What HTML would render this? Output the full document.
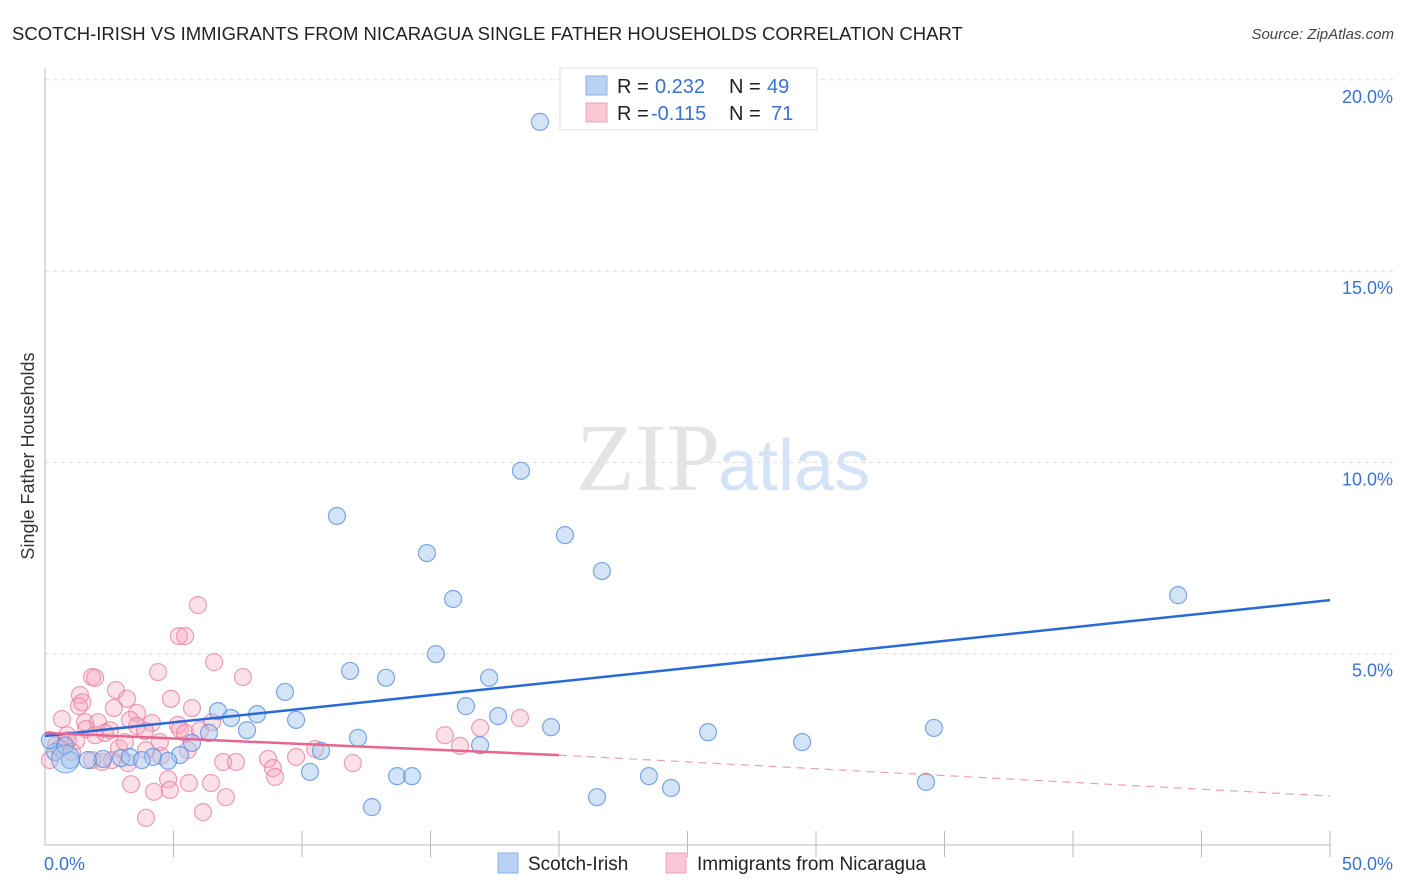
<!DOCTYPE html>
<html><head><meta charset="utf-8">
<style>
body{margin:0;background:#fff;font-family:"Liberation Sans",sans-serif;}
#wrap{position:relative;width:1406px;height:892px;overflow:hidden;}
svg{position:absolute;left:0;top:0;}
</style></head>
<body>
<div id="wrap">
<svg id="chart" width="1406" height="892">
  <text x="12" y="40" font-size="18.5" fill="#222">SCOTCH-IRISH VS IMMIGRANTS FROM NICARAGUA SINGLE FATHER HOUSEHOLDS CORRELATION CHART</text>
  <text x="1394" y="39" font-size="15" fill="#444" font-style="italic" text-anchor="end">Source: ZipAtlas.com</text>
  <text x="720" y="490" font-size="96" fill="#e4e4e4" text-anchor="end" font-family="Liberation Serif,serif">ZIP</text>
  <text x="718" y="490" font-size="72" fill="#d4e3f5">atlas</text>
  <g id="grid"></g>
  <g id="axes"></g>
  <g id="pinkPts"></g>
  <g id="bluePts"></g>
  <g id="trends"></g>
  <text transform="translate(34,456) rotate(-90)" font-size="18" fill="#333" text-anchor="middle">Single Father Households</text>
  <g>
    <rect x="560" y="68" width="257" height="62" fill="#fff" stroke="#ddd"/>
    <rect x="586" y="76" width="21" height="19" fill="#b8d2f4" stroke="#8ab3ea"/>
    <rect x="586" y="103" width="21" height="19" fill="#f9c6d4" stroke="#eea2ba"/>
    <text x="617" y="93" font-size="20" fill="#222">R =</text>
    <text x="655" y="93" font-size="20" fill="#3a72d0">0.232</text>
    <text x="729" y="93" font-size="20" fill="#222">N =</text>
    <text x="767" y="93" font-size="20" fill="#3a72d0">49</text>
    <text x="617" y="120" font-size="20" fill="#222">R =</text>
    <text x="651" y="120" font-size="20" fill="#3a72d0">-0.115</text>
    <text x="729" y="120" font-size="20" fill="#222">N =</text>
    <text x="771" y="120" font-size="20" fill="#3a72d0">71</text>
  </g>
  <g>
    <rect x="498" y="853" width="20" height="20" fill="#b8d2f4" stroke="#8ab3ea"/>
    <text x="528" y="870" font-size="19" fill="#222">Scotch-Irish</text>
    <rect x="666" y="853" width="20" height="20" fill="#f9c6d4" stroke="#eea2ba"/>
    <text x="697" y="870" font-size="19" fill="#222">Immigrants from Nicaragua</text>
  </g>
</svg>
</div>
<script>
const yTicks=[5,10,15,20];
const yTickLabels=["5.0%","10.0%","15.0%","20.0%"];
const xTickVals=[0,5,10,15,20,25,30,35,40,45,50];
const xEndLabels=["0.0%","50.0%"];
const blueX=[19.26,18.52,11.36,20.23,14.86,21.67,15.88,44.09,15.21,11.87,13.27,17.28,9.34,6.73,8.25,7.24,9.77,16.38,17.63,6.38,7.86,19.69,25.8,34.59,29.46,12.18,5.72,10.74,16.93,5.25,4.79,4.2,2.96,2.26,1.67,0.97,0.39,10.31,13.7,14.28,23.5,24.36,34.28,21.48,12.72,3.3,3.77,0.78,0.19];
const blueY=[18.9,9.78,8.6,8.1,7.63,7.16,6.43,6.53,4.99,4.55,4.37,4.37,4.0,3.5,3.42,3.32,3.27,3.63,3.37,2.93,3.0,3.08,2.95,3.06,2.69,2.8,2.67,2.46,2.61,2.35,2.2,2.3,2.27,2.25,2.22,2.22,2.43,1.91,1.8,1.8,1.8,1.49,1.65,1.25,0.99,2.3,2.22,2.6,2.74];
const pinkX=[5.95,5.21,5.45,4.4,6.58,7.7,1.83,1.95,2.76,1.36,4.9,3.19,1.32,1.45,2.68,3.58,5.72,0.66,1.56,2.06,3.31,4.16,5.17,5.25,3.58,2.53,2.33,1.6,0.86,0.43,0.19,6.5,15.56,18.48,16.93,16.15,10.51,9.77,8.68,6.93,7.43,5.56,4.51,3.93,3.23,2.61,2.22,1.83,2.88,8.87,11.98,8.95,4.79,5.6,6.46,3.35,4.24,4.86,7.04,6.15,3.93,0.89,1.21,0.58,1.05,1.95,3.89,5.45,6.03,3.11,4.47];
const pinkY=[6.27,5.46,5.46,4.52,4.78,4.39,4.39,4.37,4.05,3.92,3.82,3.82,3.63,3.73,3.58,3.45,3.58,3.29,3.21,3.21,3.27,3.19,3.14,3.03,3.11,3.0,2.93,3.03,2.87,2.61,2.22,3.21,2.87,3.32,3.06,2.59,2.51,2.3,2.25,2.17,2.17,2.48,2.33,2.48,2.14,2.22,2.17,2.22,2.53,2.01,2.14,1.78,1.72,1.62,1.62,1.59,1.39,1.44,1.25,0.86,0.71,2.74,2.72,2.53,2.43,2.87,2.98,2.93,3.0,2.69,2.69];
const blueTrend=[[0,2.85],[50,6.4]];
const pinkTrend=[[0,2.93],[20,2.35]];
const pinkTrendDash=[[20,2.35],[50,1.28]];

const NS="http://www.w3.org/2000/svg";
const X0=45,X1=1330,Y0=845,PXPER=191.3/5;
function sx(v){return X0+(X1-X0)*v/50;}
function sy(v){return Y0-v*PXPER;}
function mk(tag,attrs,parent){const e=document.createElementNS(NS,tag);for(const k in attrs)e.setAttribute(k,attrs[k]);parent.appendChild(e);return e;}
const grid=document.getElementById('grid'),axes=document.getElementById('axes');
yTicks.forEach((t,i)=>{
  const l=mk('line',{x1:X0,x2:1394,y1:sy(t),y2:sy(t),stroke:'#ddd','stroke-dasharray':'4,4'},grid);
  
  
  const tx=mk('text',{x:1393,y:sy(t)+23,'font-size':18,fill:'#3a72d0','text-anchor':'end'},axes);
  tx.textContent=yTickLabels[i];
  
  
});
let a=mk('line',{x1:X0,x2:X0,y1:68,y2:Y0,stroke:'#bbb'},axes);


a=mk('line',{x1:X0,x2:X1,y1:Y0,y2:Y0,stroke:'#bbb'},axes);


xTickVals.forEach(v=>{if(v%5===0&&v>0){const tk=mk('line',{x1:sx(v),x2:sx(v),y1:Y0-14,y2:Y0+12,stroke:'#bbb'},axes);
  
  }});
[0,50].forEach((v,i)=>{const tx=mk('text',{x:i?1393:44,y:870,'font-size':18,fill:'#3a72d0','text-anchor':i?'end':'start'},axes);
  tx.textContent=xEndLabels[i];
  
  });
function pts(xs,ys,g,fill,stroke,name){
  xs.forEach((x,i)=>{const c=mk('circle',{cx:sx(x),cy:sy(ys[i]),r:8.5,fill:fill,stroke:stroke,'stroke-width':1.2},g);
    
    });
}
pts(pinkX,pinkY,document.getElementById('pinkPts'),'rgba(245,165,190,0.35)','rgba(230,120,155,0.7)','nicaragua-point');
pts(blueX,blueY,document.getElementById('bluePts'),'rgba(160,196,240,0.45)','rgba(80,140,220,0.75)','scotch-irish-point');
const big=mk('circle',{cx:sx(0.8),cy:sy(2.25),r:14,fill:'rgba(160,196,240,0.45)',stroke:'rgba(80,140,220,0.75)'},document.getElementById('bluePts'));


const tr=document.getElementById('trends');
function line(p,stroke,w,dash,name){const l=mk('line',{x1:sx(p[0][0]),y1:sy(p[0][1]),x2:sx(p[1][0]),y2:sy(p[1][1]),stroke:stroke,'stroke-width':w},tr);
  if(dash)l.setAttribute('stroke-dasharray',dash);
  
  }
line(blueTrend,'#2a6ad6',2.5,null,'scotch-irish-trendline');
line(pinkTrend,'#e8658f',2.5,null,'nicaragua-trendline');
line(pinkTrendDash,'#eaa0b8',1.2,'8,6','nicaragua-trendline-extension');
</script>
</body></html>
